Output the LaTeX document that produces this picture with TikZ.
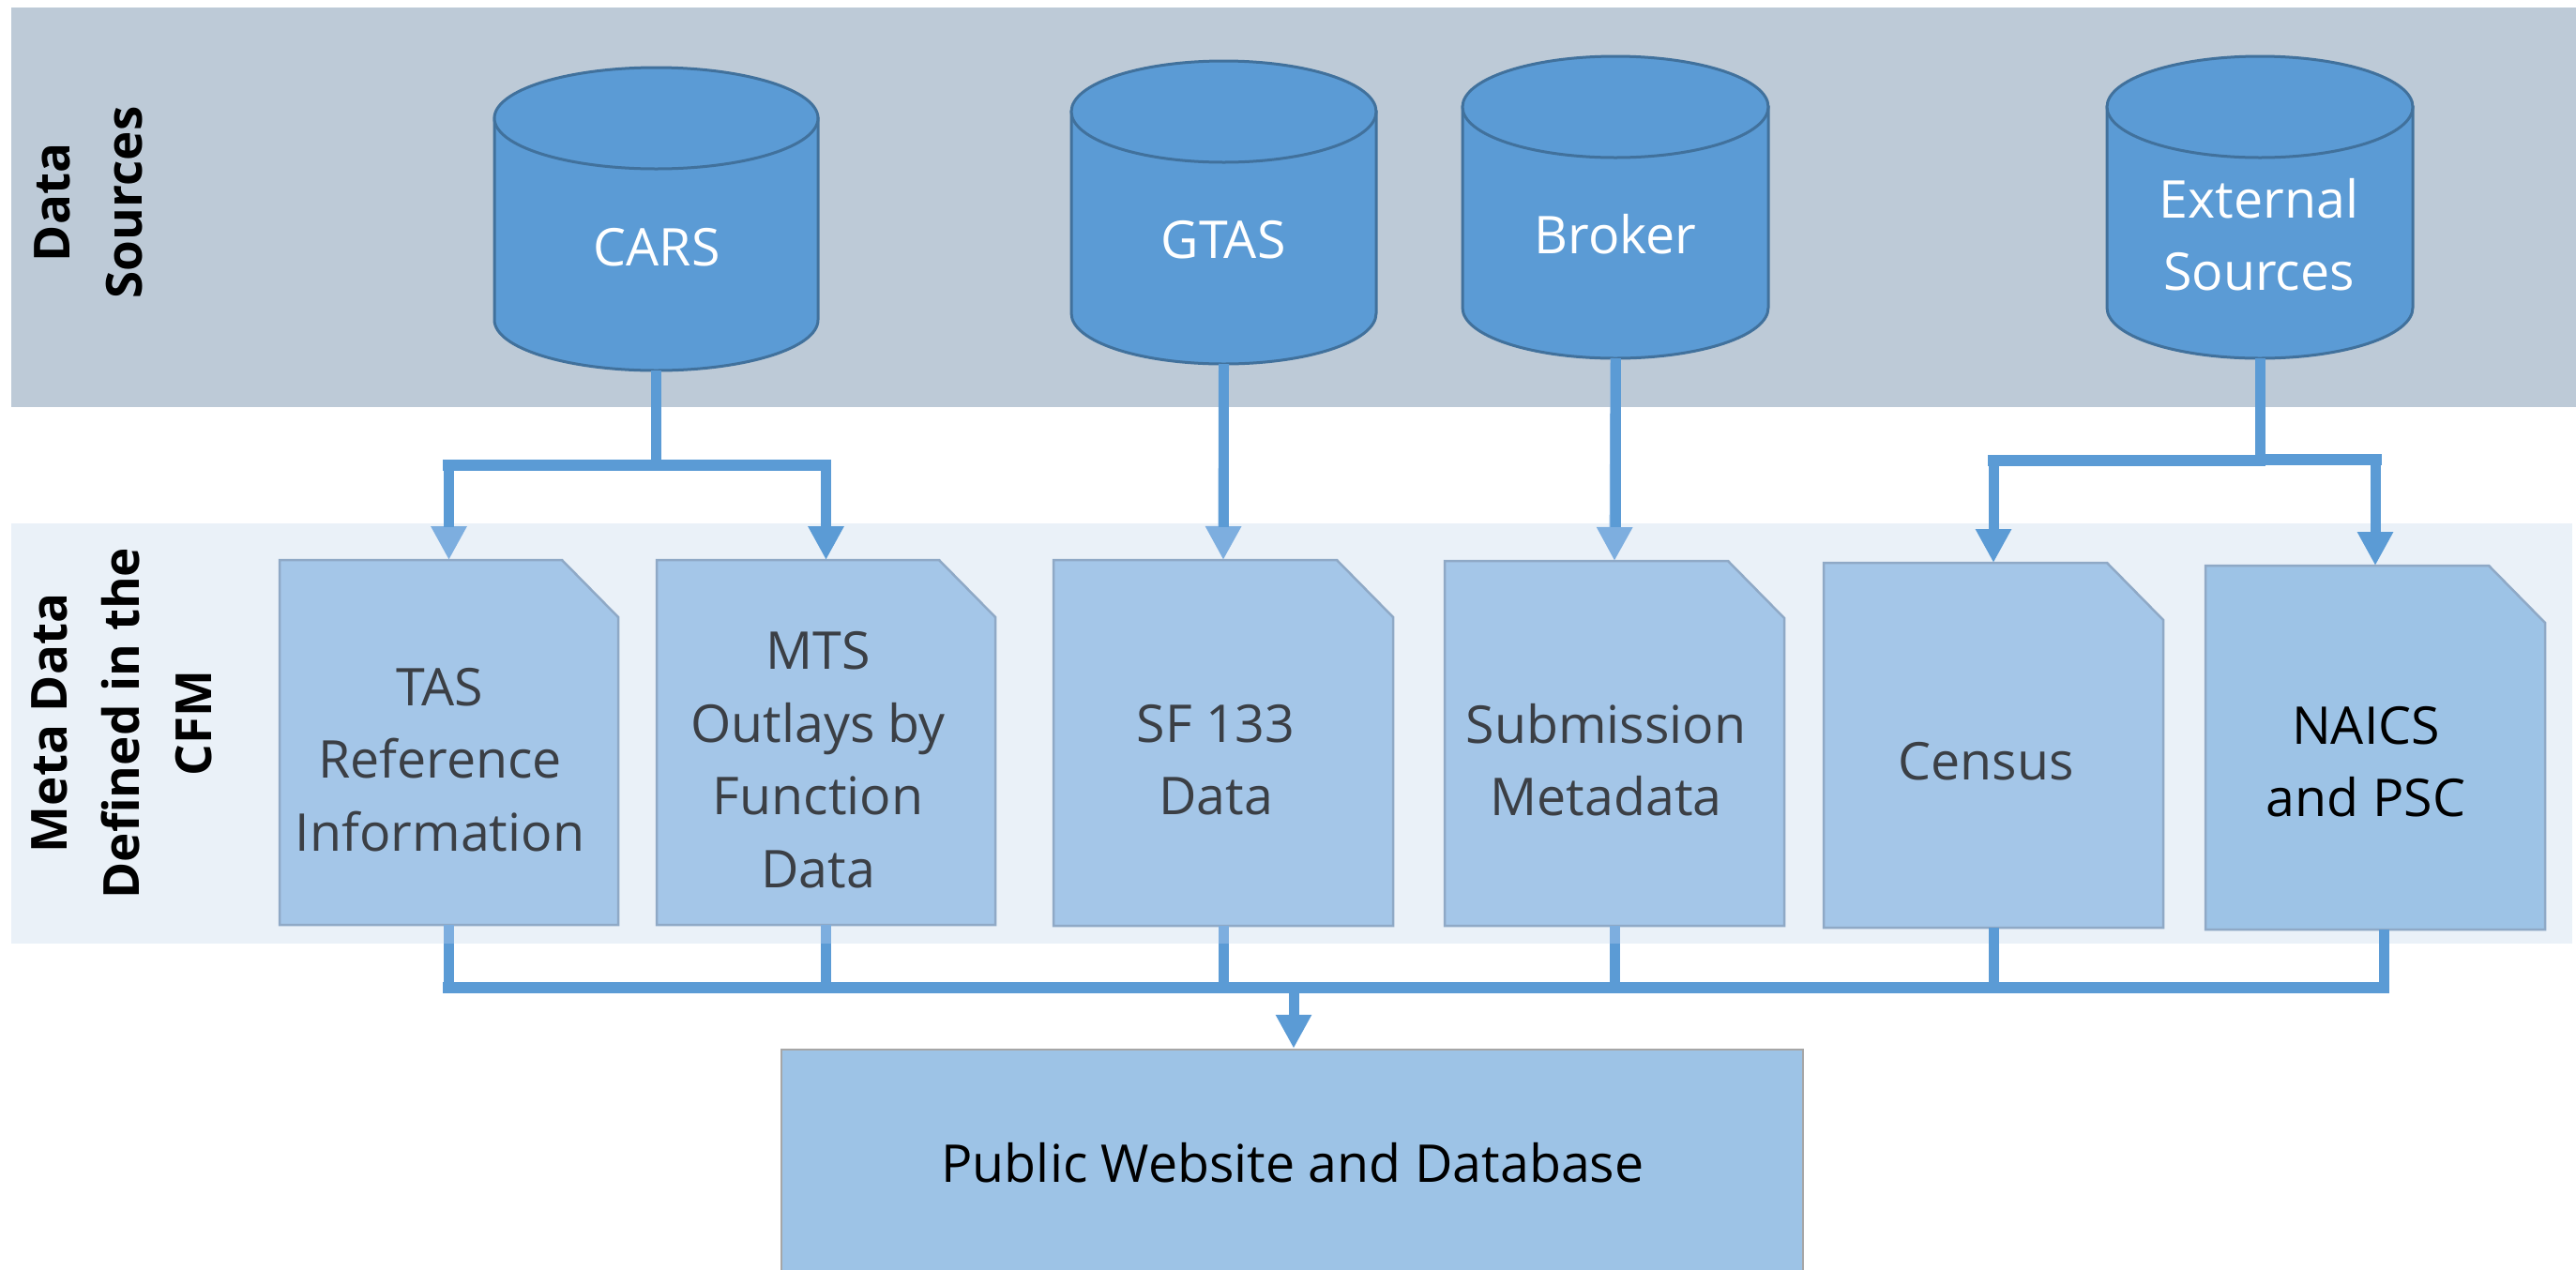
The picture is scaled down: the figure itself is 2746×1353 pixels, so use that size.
\documentclass[tikz,border=0pt]{standalone}
\usepackage{fontspec}
\setmainfont{Open Sans}
\usetikzlibrary{arrows.meta}
\definecolor{bandA}{HTML}{BDCAD7}
\definecolor{bandB}{HTML}{EAF1F8}
\definecolor{cyl}{HTML}{5B9BD5}
\definecolor{cyll}{HTML}{7DAEDF}
\definecolor{cylb}{HTML}{41719C}
\definecolor{docf}{HTML}{A4C6E8}
\definecolor{docd}{HTML}{9DC3E6}
\definecolor{docb}{HTML}{8FA9C6}
\definecolor{txtd}{HTML}{3B3F45}
\tikzset{
  x=1pt,y=-1pt,
  lab/.style={font=\fontsize{55.5}{77.5}\selectfont,align=center,inner sep=0pt,text=txtd},
  side/.style={font=\fontsize{53}{77}\selectfont\bfseries,align=center,inner sep=0pt,rotate=90,text=black},
  conn/.style={draw=cyl,line width=11pt},
  connl/.style={draw=cyll,line width=11pt},
  bus/.style={draw=cyl,line width=12pt},
  head/.style={-{Triangle[length=36pt,width=36pt]},draw=cyl,fill=cyl,line width=11pt},
  headl/.style={-{Triangle[length=36pt,width=36pt]},draw=cyll,fill=cyll,line width=11pt},
  anchorbox/.style={inner sep=0pt,outer sep=0pt},
  docshape/.style={fill=docf,draw=docb,line width=2.5pt},
  cylshape/.style={fill=cyl,draw=cylb,line width=3pt}
}
% name, x1, y1, x2, y2
\newcommand{\cylshape}[5]{%
  \path[cylshape] (#2,#3+54) -- (#2,#5-54) .. controls (#2,#5-24) and ({(#2+#4)/2-(#4-#2)*0.276},#5) .. ({(#2+#4)/2},#5) .. controls ({(#2+#4)/2+(#4-#2)*0.276},#5) and (#4,#5-24) .. (#4,#5-54) -- (#4,#3+54) -- cycle;
  \path[cylshape] ({(#2+#4)/2},#3+54) ellipse [x radius={(#4-#2)/2},y radius=54];
  \node[anchorbox,minimum width={#4-#2},minimum height={#5-#3}] (#1) at ({(#2+#4)/2},{(#3+#5)/2}) {};
}
% name, x1, y1, x2, y2, fill
\newcommand{\docshape}[6]{%
  \path[docshape,fill=#6] (#2,#3) -- (#4-60,#3) -- (#4,#3+61) -- (#4,#5) -- (#2,#5) -- cycle;
  \node[anchorbox,minimum width={#4-#2},minimum height={#5-#3}] (#1) at ({(#2+#4)/2},{(#3+#5)/2}) {};
}
\begin{document}
\begin{tikzpicture}
\useasboundingbox (0,0) rectangle (2746,1353);
\fill[bandA] (12,8) rectangle (2746,434);
\fill[bandB] (12,558) rectangle (2742,1006);

\cylshape{cars}{527}{72}{872}{395}
\cylshape{gtas}{1142}{65}{1467}{388}
\cylshape{broker}{1559}{60}{1885}{382}
\cylshape{ext}{2246}{60}{2572}{382}

\docshape{tas}{298}{597}{659}{986}{docf}
\docshape{mts}{700}{597}{1061}{986}{docf}
\docshape{sf}{1123}{597}{1485}{987}{docf}
\docshape{sub}{1540}{598}{1902}{987}{docf}
\docshape{cen}{1944}{600}{2306}{989}{docf}
\docshape{naics}{2351}{603}{2713}{991}{docd}

\node[draw=black!35,line width=2.5pt,fill=docd,minimum width=1089pt,minimum height=240pt,inner sep=0pt] (pub) at (1377.5,1239) {};

\coordinate (splitA) at (700,496);
\coordinate (splitAl) at (472,496);
\coordinate (splitAr) at (886,496);
\coordinate (splitB) at (2410,491);
\coordinate (splitBl) at (2119,491);
\coordinate (splitBr) at (2539,490);
\coordinate (naicsout) at (2541,991);
\coordinate (bl) at (472,1053);
\coordinate (br) at (2547,1053);
\coordinate (bj) at (1379,1053);
\coordinate (stemend) at (0,562);
\coordinate (bandend) at (0,1006);

% sources to metadata
\draw[conn] (cars.south) -- (cars.south |- 0,502);
\draw[bus] (splitAl) -- (splitAr);
\draw[headl] (tas.north |- splitA) -- (tas.north);
\draw[conn] (tas.north |- splitA) -- (tas.north |- stemend);
\draw[head] (mts.north |- splitA) -- (mts.north);
\draw[headl] (gtas.south) -- (sf.north);
\draw[conn] (gtas.south) -- (gtas.south |- stemend);
\draw[headl] (broker.south) -- (sub.north);
\draw[conn] (broker.south) -- (broker.south |- stemend);
\draw[conn] (ext.south) -- (ext.south |- 0,497);
\draw[bus] (splitBl) -- (splitB -| ext.south);
\draw[bus] (splitB |- splitBr) -- (splitBr);
\draw[head] (cen.north |- splitBl) -- (cen.north);
\draw[head] (naics.north |- splitBr) -- (naics.north);

% metadata to bus
\foreach \n in {tas,mts,sf,sub,cen}{
  \draw[conn] (\n.south) -- (\n.south |- bl);
}
\foreach \n in {tas,mts,sf,sub}{
  \draw[connl] (\n.south) -- (\n.south |- bandend);
}
\draw[conn] (naicsout) -- (naicsout |- bl);
\draw[bus] (bl) -- (br);
\draw[head] (bj) -- (bj |- pub.north);

\node[lab,text=white] (tcars) at (700,264) {CARS};
\node[lab,text=white] (tgtas) at (1304,256) {GTAS};
\node[lab,text=white] (tbroker) at (1722,250) {Broker};
\node[lab,text=white] (text) at (2408,250) {External\\Sources};
\node[lab] (ttas) at (469,810) {TAS\\Reference\\Information};
\node[lab] (tmts) at (872,810) {MTS\\Outlays by\\Function\\Data};
\node[lab] (tsf) at (1296,810) {SF 133\\Data};
\node[lab] (tsub) at (1712,810) {Submission\\Metadata};
\node[lab] (tcen) at (2117,812) {Census};
\node[lab,text=black] (tnai) at (2522,812) {NAICS\\and PSC};
\node[lab,text=black] (tpub) at (1378,1240) {Public Website and Database};
\node[side] (tds) at (94,216) {Data\\Sources};
\node[side] (tmd) at (130,771) {Meta Data\\Defined in the\\CFM};
\end{tikzpicture}
\end{document}
